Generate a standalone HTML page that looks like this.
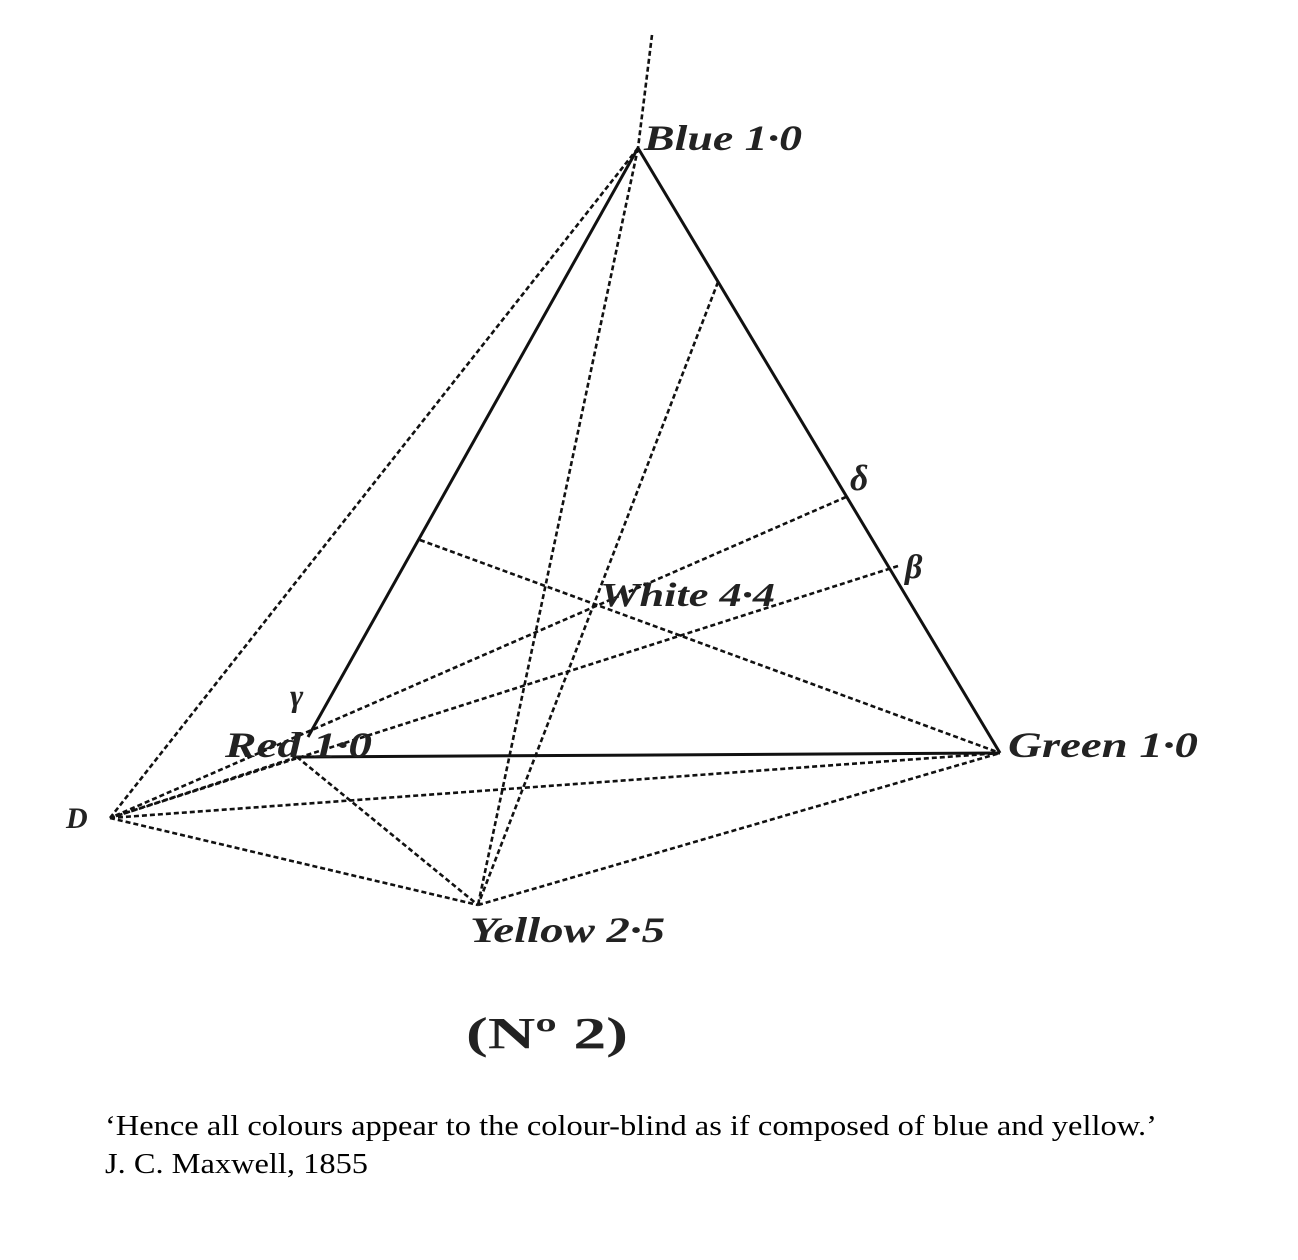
<!DOCTYPE html>
<html><head><style>
html,body{margin:0;padding:0;background:#fff;width:1298px;height:1260px;overflow:hidden}
svg{display:block}
.lab{font-family:"Liberation Serif",serif;font-style:italic;font-weight:bold;fill:#222}
</style></head><body>
<svg width="1298" height="1260" viewBox="0 0 1298 1260">
<g stroke="#111" stroke-width="2.6" fill="none" stroke-dasharray="5,3">
<line x1="652" y1="35" x2="638" y2="148"/>
<line x1="638" y1="148" x2="110" y2="818"/>
<line x1="638" y1="148" x2="478" y2="905"/>
<line x1="718" y1="282" x2="478" y2="905"/>
<line x1="420" y1="540" x2="1000" y2="753"/>
<line x1="846" y1="497" x2="110" y2="818"/>
<line x1="898" y1="566" x2="110" y2="818"/>
<line x1="110" y1="818" x2="297" y2="757"/>
<line x1="110" y1="818" x2="1000" y2="753"/>
<line x1="110" y1="818" x2="478" y2="905"/>
<line x1="297" y1="757" x2="478" y2="905"/>
<line x1="478" y1="905" x2="1000" y2="753"/>
</g>
<g stroke="#111" stroke-width="3" fill="none">
<line x1="638" y1="148" x2="1000" y2="753"/>
<line x1="638" y1="148" x2="308" y2="737"/>
<line x1="297" y1="757" x2="1000" y2="753"/>
</g>
<text class="lab" x="644" y="150" font-size="36" textLength="158" lengthAdjust="spacingAndGlyphs">Blue 1·0</text>
<text class="lab" x="600" y="606" font-size="34" textLength="175" lengthAdjust="spacingAndGlyphs">White 4·4</text>
<text class="lab" x="225" y="757" font-size="36" textLength="147" lengthAdjust="spacingAndGlyphs">Red 1·0</text>
<text class="lab" x="1008" y="757" font-size="36" textLength="190" lengthAdjust="spacingAndGlyphs">Green 1·0</text>
<text class="lab" x="470" y="942" font-size="36" textLength="195" lengthAdjust="spacingAndGlyphs">Yellow 2·5</text>
<text class="lab" x="66" y="828" font-size="30">D</text>
<text class="lab" x="290" y="706" font-size="32">γ</text>
<text class="lab" x="850" y="490" font-size="36">δ</text>
<text class="lab" x="905" y="578" font-size="34">β</text>
<text x="466" y="1048" font-family="Liberation Serif,serif" font-weight="bold" font-size="44" fill="#222" textLength="162" lengthAdjust="spacingAndGlyphs">(Nº 2)</text>
<text x="105" y="1135" font-family="Liberation Serif,serif" font-size="29" fill="#000" textLength="1052" lengthAdjust="spacingAndGlyphs">‘Hence all colours appear to the colour-blind as if composed of blue and yellow.’</text>
<text x="105" y="1173" font-family="Liberation Serif,serif" font-size="29" fill="#000" textLength="263" lengthAdjust="spacingAndGlyphs">J. C. Maxwell, 1855</text>
</svg>
</body></html>
